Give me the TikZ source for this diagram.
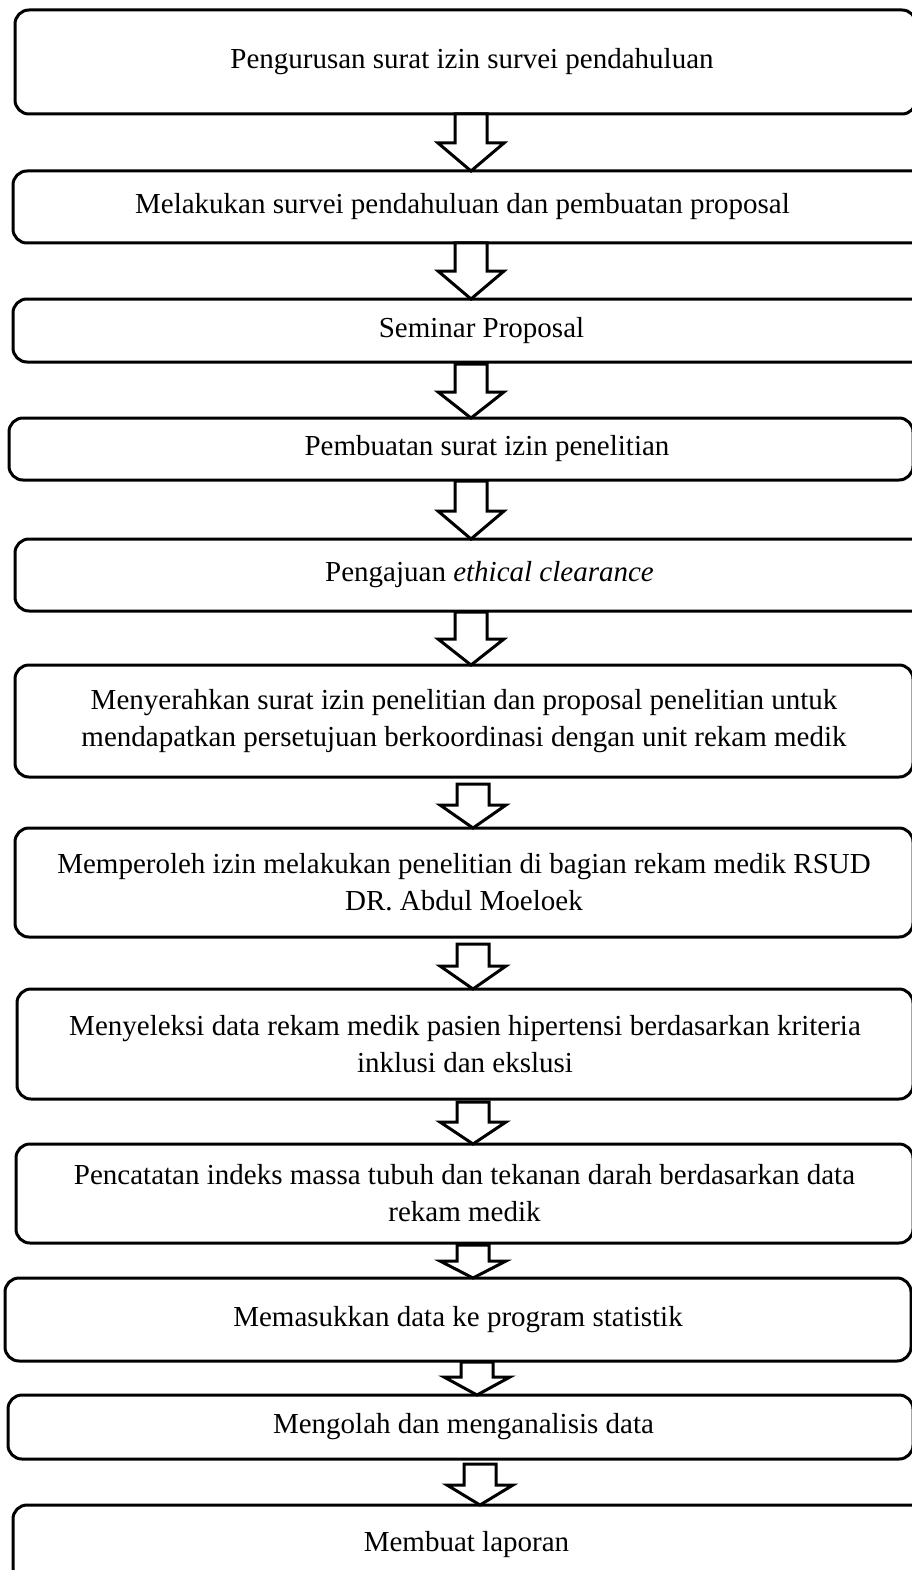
\documentclass[tikz,border=0pt]{standalone}
\usepackage{fontspec}
\setmainfont{Liberation Serif}
\usetikzlibrary{calc}
\tikzset{
  box/.style={draw, line width=3pt, rounded corners=14pt, inner sep=0pt, outer sep=0pt,
    align=center, font=\fontsize{29}{37}\selectfont},
  blockarrow/.style={draw, line width=3pt, fill=white, line join=miter},
}
% #1 name, #2 left, #3 top, #4 right, #5 bottom, #6 text
\newcommand{\flowbox}[6]{%
  \node[box, minimum width={#4-#2}, minimum height={#5-#3}] (#1) at ({(#2+#4)/2},{(#3+#5)/2}) {#6};}
% horizontal / vertical text offset
\newcommand{\offtxt}[3]{\raisebox{#2pt}{\hspace*{\dimexpr 2\dimexpr #1pt\relax\relax}#3}}
% #1 x, #2 from node, #3 to node, #4 gap, #5 head length
\newcommand{\blockarr}[5]{%
  \draw[blockarrow] let \p1=(#2.south), \p2=(#3.north) in
    (#1pt-16pt,\y1-#4pt) -- (#1pt+16pt,\y1-#4pt) -- (#1pt+16pt,\y2+#5pt) --
    (#1pt+33pt,\y2+#5pt) -- (#1pt,\y2) -- (#1pt-33pt,\y2+#5pt) --
    (#1pt-16pt,\y2+#5pt) -- cycle;}
\begin{document}
\begin{tikzpicture}[x=1pt,y=-1pt]
\useasboundingbox (0,0) rectangle (912,1570);
\fill[white] (0,0) rectangle (912,1570);
\clip (0,0) rectangle (912,1570);
\flowbox{b1}{15}{10}{916}{114}{\offtxt{6.5}{4}{Pengurusan surat izin survei pendahuluan}}
\flowbox{b2}{13}{171}{930}{243}{\offtxt{-9}{0}{Melakukan survei pendahuluan dan pembuatan proposal}}
\flowbox{b3}{13}{299}{930}{362}{\offtxt{10}{0}{Seminar Proposal}}
\flowbox{b4}{9}{418}{913}{480}{\offtxt{26}{0}{Pembuatan surat izin penelitian}}
\flowbox{b5}{15}{539}{930}{611}{\offtxt{17}{0}{Pengajuan \textit{ethical clearance}}}
\flowbox{b6}{15}{665}{913}{777}{Menyerahkan surat izin penelitian dan proposal penelitian untuk\\mendapatkan persetujuan berkoordinasi dengan unit rekam medik}
\flowbox{b7}{15}{828}{913}{937}{Memperoleh izin melakukan penelitian di bagian rekam medik RSUD\\DR. Abdul Moeloek}
\flowbox{b8}{17}{989}{913}{1099}{Menyeleksi data rekam medik pasien hipertensi berdasarkan kriteria\\inklusi dan ekslusi}
\flowbox{b9}{16}{1144}{913}{1243}{Pencatatan indeks massa tubuh dan tekanan darah berdasarkan data\\rekam medik}
\flowbox{b10}{5}{1278}{911}{1361}{Memasukkan data ke program statistik}
\flowbox{b11}{8}{1395}{913}{1459}{\offtxt{3}{0}{Mengolah dan menganalisis data}}
\flowbox{b12}{13}{1505}{930}{1585}{\offtxt{-5}{0}{Membuat laporan}}
\blockarr{471}{b1}{b2}{0}{28}
\blockarr{471}{b2}{b3}{0}{28}
\blockarr{471}{b3}{b4}{2}{26}
\blockarr{471}{b4}{b5}{1}{28}
\blockarr{471}{b5}{b6}{1}{26}
\blockarr{473}{b6}{b7}{7}{23}
\blockarr{473}{b7}{b8}{7}{23}
\blockarr{473}{b8}{b9}{3}{22}
\blockarr{473}{b9}{b10}{2}{17}
\blockarr{477}{b10}{b11}{1}{18}
\blockarr{480}{b11}{b12}{5}{20}
\end{tikzpicture}
\end{document}
